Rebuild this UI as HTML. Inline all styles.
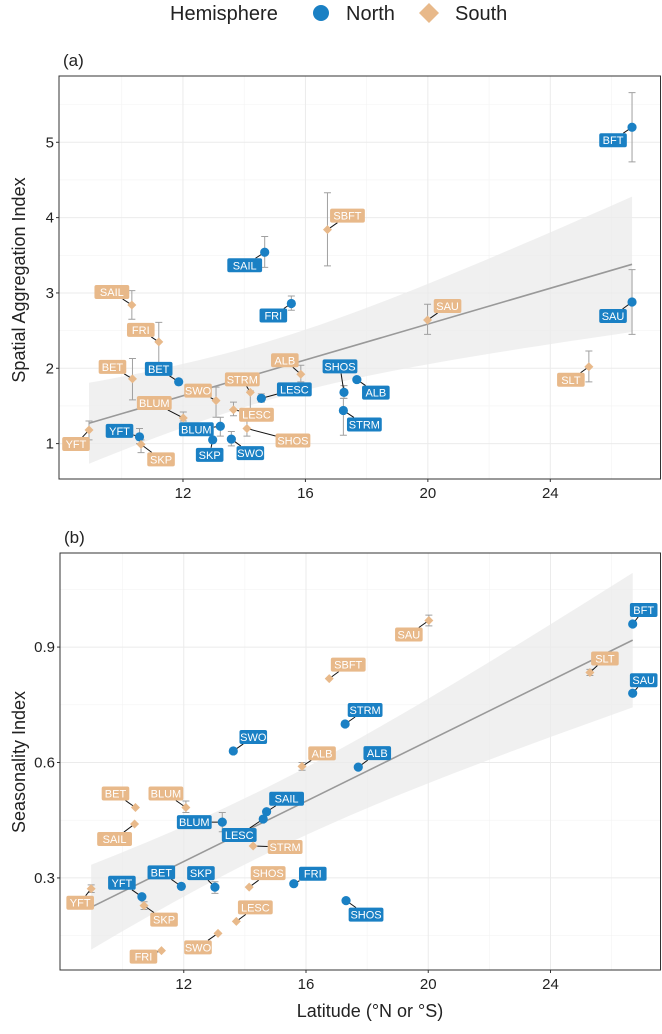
<!DOCTYPE html>
<html><head><meta charset="utf-8"><style>
body{margin:0;background:#fff;}
svg{display:block;font-family:"Liberation Sans",sans-serif;}
</style></head><body>
<svg id="chart" width="662" height="1034" viewBox="0 0 662 1034">
<g>
<text x="170" y="20" font-size="20" fill="#222">Hemisphere</text>
<circle cx="321" cy="13" r="8" fill="#1a80c4"/>
<text x="346" y="20" font-size="20" fill="#222">North</text>
<path d="M429 3 L439 13 L429 23 L419 13 Z" fill="#e8b98a"/>
<text x="455" y="20" font-size="20" fill="#222">South</text>
</g>
<text x="63" y="66" font-size="17" fill="#222">(a)</text>
<text x="64" y="543" font-size="17" fill="#222">(b)</text>
<text transform="translate(25,280) rotate(-90)" text-anchor="middle" font-size="18" fill="#222">Spatial Aggregation Index</text>
<text transform="translate(25,762) rotate(-90)" text-anchor="middle" font-size="18" fill="#222">Seasonality Index</text>
<text x="370" y="1017" text-anchor="middle" font-size="18" fill="#222">Latitude (°N or °S)</text>
<g id="pa"></g>
<g id="pb"></g>
</svg>
<script>
// shared
const speciesA = ["BFT","SAU","SAIL","FRI","BET","LESC","SHOS","ALB","STRM","BLUM","YFT","SKP","SWO","SBFT","SAIL","FRI","SAU","SLT","BET","ALB","STRM","SWO","LESC","BLUM","SHOS","YFT","SKP"];
const hemiA = ["N","N","N","N","N","N","N","N","N","N","N","N","N","S","S","S","S","S","S","S","S","S","S","S","S","S","S"];
const latA = [26.67,26.67,14.67,15.54,11.86,14.56,17.26,17.68,17.24,13.22,10.58,12.97,13.58,16.72,10.33,11.21,19.99,25.26,10.35,15.85,14.2,13.08,13.65,12.01,14.09,8.93,10.63];
const valA = [5.2,2.88,3.54,2.86,1.82,1.6,1.68,1.85,1.44,1.23,1.09,1.05,1.06,3.84,2.84,2.35,2.64,2.02,1.86,1.92,1.68,1.57,1.45,1.34,1.2,1.18,0.99];
const loA = [4.74,2.45,3.34,2.77,1.8,1.55,1.6,1.83,1.11,1.1,1.0,1.03,0.97,3.36,2.65,2.05,2.45,1.82,1.58,1.82,1.45,1.35,1.37,1.3,1.1,1.05,0.88];
const hiA = [5.66,3.31,3.75,2.96,1.84,1.66,1.77,1.87,1.6,1.35,1.2,1.07,1.16,4.33,3.03,2.61,2.85,2.23,2.13,2.04,1.7,1.75,1.55,1.42,1.3,1.3,1.05];
const fitA = [0.119, 0.209]; // slope, intercept-ish: y = a*lat + b -> computed below
const speciesB = ["BFT","SAU","STRM","SWO","ALB","SAIL","LESC","BLUM","BET","SKP","FRI","YFT","SHOS","SAU","SLT","SBFT","ALB","BET","BLUM","SAIL","STRM","SHOS","YFT","SKP","LESC","SWO","FRI"];
const hemiB = ["N","N","N","N","N","N","N","N","N","N","N","N","N","S","S","S","S","S","S","S","S","S","S","S","S","S","S"];
const latB = [26.69,26.69,17.28,13.62,17.71,14.71,14.6,13.26,11.92,13.02,15.6,10.63,17.31,20.02,25.29,16.76,15.87,10.42,12.07,10.39,14.27,14.14,8.97,10.7,13.72,13.12,11.27];
const valB = [0.96,0.78,0.70,0.63,0.588,0.472,0.453,0.445,0.278,0.276,0.285,0.251,0.241,0.969,0.834,0.818,0.59,0.483,0.483,0.44,0.383,0.276,0.272,0.228,0.187,0.156,0.111];
const loB = [0.96,0.78,0.70,0.63,0.588,0.472,0.453,0.42,0.278,0.26,0.285,0.251,0.241,0.955,0.826,0.818,0.58,0.483,0.47,0.44,0.383,0.276,0.262,0.218,0.187,0.156,0.111];
const hiB = [0.96,0.78,0.70,0.63,0.588,0.472,0.453,0.47,0.278,0.29,0.285,0.251,0.241,0.983,0.842,0.818,0.60,0.483,0.50,0.44,0.383,0.276,0.282,0.238,0.187,0.156,0.111];
const ticksX = [12,16,20,24];
const ticksYA = [1,2,3,4,5];
const ticksYB = [0.3,0.6,0.9];
const fitLineA = [[8.93,1.27],[26.67,3.38]];
const fitLineB = [[8.97,0.224],[26.69,0.918]];
const bandA = [0.151,0.00443,14.5];
const bandB = [0.00737,0.000156,14.5];
// layout: label offsets (px)
const offA = [[-19,13],[-19,14],[-20,13],[-18,12],[-20,-13],[33,-9],[-4,-26],[19,13],[21,14],[-24,3],[-20,-6],[-3,15],[19,14],[20,-14],[-20,-13],[-18,-12],[20,-14],[-18,13],[-20,-12],[-16,-14],[-8,-13],[-18,-10],[23,5],[-29,-15],[46,12],[-13,14],[20,15]];
const offB = [[11,-14],[11,-13],[20,-14],[20,-14],[19,-14],[20,-13],[-24,16],[-28,0],[-20,-14],[-14,-14],[19,-10],[-20,-14],[20,14],[-20,14],[15,-14],[19,-14],[20,-13],[-20,-14],[-20,-14],[-20,15],[32,1],[19,-14],[-11,14],[20,14],[19,-14],[-20,14],[-18,6]];

const NS="http://www.w3.org/2000/svg";
function mk(parent,tag,attrs){const e=document.createElementNS(NS,tag);for(const k in attrs)e.setAttribute(k,attrs[k]);parent.appendChild(e);return e;}

function panel(g, P, ticksY, minorY, sp, hemi, lat, val, lo, hi, off, fit, band, tickFmt, pname){
  const xs=v=>P.l+(v-P.x0)/(P.x1-P.x0)*(P.r-P.l);
  const ys=v=>P.b-(v-P.y0)/(P.y1-P.y0)*(P.b-P.t);
  // grid
  [10,14,18,22,26].forEach(v=>{const l=mk(g,'line',{x1:xs(v),x2:xs(v),y1:P.t,y2:P.b,stroke:'#f3f3f3','stroke-width':0.6});
    
    });
  minorY.forEach(v=>{const l=mk(g,'line',{x1:P.l,x2:P.r,y1:ys(v),y2:ys(v),stroke:'#f3f3f3','stroke-width':0.6});
    
    });
  ticksX.forEach(v=>{const l=mk(g,'line',{x1:xs(v),x2:xs(v),y1:P.t,y2:P.b,stroke:'#ebebeb','stroke-width':1});
    
    
    const tk=mk(g,'line',{x1:xs(v),x2:xs(v),y1:P.b,y2:P.b+3,stroke:'#333'});
    
    
    const t=mk(g,'text',{x:xs(v),y:P.b+19,'text-anchor':'middle','font-size':15,fill:'#222'});t.textContent=v;
    
    });
  ticksY.forEach(v=>{const l=mk(g,'line',{x1:P.l,x2:P.r,y1:ys(v),y2:ys(v),stroke:'#ebebeb','stroke-width':1});
    
    
    const tk=mk(g,'line',{x1:P.l-3,x2:P.l,y1:ys(v),y2:ys(v),stroke:'#333'});
    
    
    const t=mk(g,'text',{x:P.l-5,y:ys(v)+5,'text-anchor':'end','font-size':15,fill:'#222'});t.textContent=tickFmt(v);
    
    });
  // band
  const a=(fit[1][1]-fit[0][1])/(fit[1][0]-fit[0][0]);
  const f=x=>fit[0][1]+a*(x-fit[0][0]);
  const hw=x=>Math.sqrt(band[0]+band[1]*(x-band[2])*(x-band[2]));
  let up=[],dn=[];
  for(let i=0;i<=40;i++){const x=fit[0][0]+(fit[1][0]-fit[0][0])*i/40;up.push(xs(x)+','+ys(f(x)+hw(x)));dn.unshift(xs(x)+','+ys(f(x)-hw(x)));}
  const bd=mk(g,'polygon',{points:up.concat(dn).join(' '),fill:'#ebebeb','fill-opacity':0.75});
  
  
  const fl=mk(g,'line',{x1:xs(fit[0][0]),y1:ys(fit[0][1]),x2:xs(fit[1][0]),y2:ys(fit[1][1]),stroke:'#999','stroke-width':1.6});
  
  
  // error bars
  lat.forEach((x,i)=>{ if(hi[i]-lo[i]<=0.001) return;
    const e=mk(g,'path',{d:`M${xs(x)} ${ys(lo[i])}V${ys(hi[i])}M${xs(x)-3.5} ${ys(lo[i])}h7M${xs(x)-3.5} ${ys(hi[i])}h7`,stroke:'#a0a0a0','stroke-width':1,fill:'none'});
    
    });
  // labels + points
  lat.forEach((x,i)=>{
    const px=xs(x),py=ys(val[i]);const N=hemi[i]==='N';
    const col=N?'#1a80c4':'#e8b98a';
    const w=sp[i].length*7.2+6,h=14;
    const cx=px+off[i][0],cy=py+off[i][1];
    // segment to box edge
    const dx=px-cx,dy=py-cy;const s=Math.min(Math.abs(dx)>0.01?(w/2)/Math.abs(dx):99,Math.abs(dy)>0.01?(h/2)/Math.abs(dy):99);
    if(s<1){const sg=mk(g,'line',{x1:px,y1:py,x2:cx+dx*s,y2:cy+dy*s,stroke:'#111','stroke-width':1});
      
      }
    const lg=mk(g,'g',{});
    
    
    mk(lg,'rect',{x:cx-w/2,y:cy-h/2,width:w,height:h,rx:2,fill:col});
    const t=mk(lg,'text',{x:cx,y:cy+4,'text-anchor':'middle','font-size':11,fill:'#fff'});t.textContent=sp[i];
    let m;
    if(N){m=mk(g,'circle',{cx:px,cy:py,r:4.6,fill:col});}
    else{m=mk(g,'path',{d:`M${px} ${py-4.5}L${px+4.5} ${py}L${px} ${py+4.5}L${px-4.5} ${py}Z`,fill:col});}
    
    
  });
  const fr=mk(g,'rect',{x:P.l,y:P.t,width:P.r-P.l,height:P.b-P.t,fill:'none',stroke:'#333','stroke-width':1});
  
  
}
panel(document.getElementById('pa'),{l:59,r:660.5,t:76,b:479,x0:7.95,x1:27.6,y0:0.53,y1:5.88},
  ticksYA,[1.5,2.5,3.5,4.5,5.5],speciesA,hemiA,latA,valA,loA,hiA,offA,fitLineA,bandA,v=>String(v),'panel-a');
panel(document.getElementById('pb'),{l:60,r:660.5,t:553,b:970,x0:7.95,x1:27.6,y0:0.0607,y1:1.1445},
  ticksYB,[0.15,0.45,0.75,1.05],speciesB,hemiB,latB,valB,loB,hiB,offB,fitLineB,bandB,v=>v.toFixed(1),'panel-b');
</script>
</body></html>
